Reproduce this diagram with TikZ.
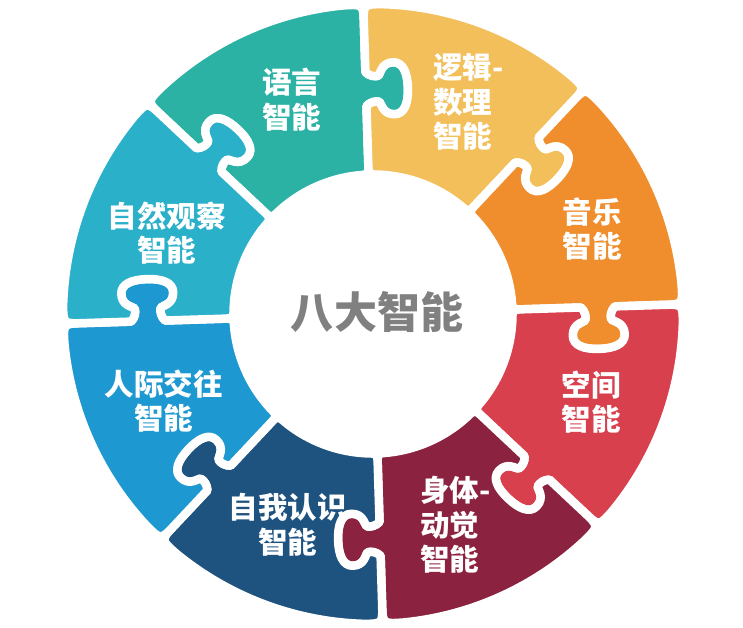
\documentclass[tikz,border=0pt]{standalone}
\usepackage{fontspec}
\newfontfamily\cjk{Noto Sans CJK SC}
\definecolor{cLang}{RGB}{44,178,164}
\definecolor{cLogic}{RGB}{243,191,90}
\definecolor{cMusic}{RGB}{240,142,46}
\definecolor{cSpace}{RGB}{216,64,78}
\definecolor{cBody}{RGB}{139,34,64}
\definecolor{cSelf}{RGB}{30,83,128}
\definecolor{cInter}{RGB}{30,152,208}
\definecolor{cNature}{RGB}{43,176,201}
\definecolor{cCenter}{RGB}{128,128,128}
\newcommand\pRin{139.5}
\newcommand\pRout{310}
\newcommand\pRmid{225}
% knob along the boundary at angle #1, from (mid-17) to (mid+17), bulging to the clockwise side
\newcommand\knobF[1]{%
 .. controls ([rotate=#1]\pRmid-13,-4) and ([rotate=#1]\pRmid-12,-9) .. ([rotate=#1]\pRmid-13,-13)
 .. controls ([rotate=#1]\pRmid-15,-15) and ([rotate=#1]\pRmid-26,-16) .. ([rotate=#1]\pRmid-26,-28)
 .. controls ([rotate=#1]\pRmid-26,-38) and ([rotate=#1]\pRmid-15,-42) .. ([rotate=#1]\pRmid,-42)
 .. controls ([rotate=#1]\pRmid+15,-42) and ([rotate=#1]\pRmid+26,-38) .. ([rotate=#1]\pRmid+26,-28)
 .. controls ([rotate=#1]\pRmid+26,-16) and ([rotate=#1]\pRmid+15,-15) .. ([rotate=#1]\pRmid+13,-13)
 .. controls ([rotate=#1]\pRmid+12,-9) and ([rotate=#1]\pRmid+13,-4) .. ([rotate=#1]\pRmid+17,0)}
% same knob, traversed backwards
\newcommand\knobB[1]{%
 .. controls ([rotate=#1]\pRmid+13,-4) and ([rotate=#1]\pRmid+12,-9) .. ([rotate=#1]\pRmid+13,-13)
 .. controls ([rotate=#1]\pRmid+15,-15) and ([rotate=#1]\pRmid+26,-16) .. ([rotate=#1]\pRmid+26,-28)
 .. controls ([rotate=#1]\pRmid+26,-38) and ([rotate=#1]\pRmid+15,-42) .. ([rotate=#1]\pRmid,-42)
 .. controls ([rotate=#1]\pRmid-15,-42) and ([rotate=#1]\pRmid-26,-38) .. ([rotate=#1]\pRmid-26,-28)
 .. controls ([rotate=#1]\pRmid-26,-16) and ([rotate=#1]\pRmid-15,-15) .. ([rotate=#1]\pRmid-13,-13)
 .. controls ([rotate=#1]\pRmid-12,-9) and ([rotate=#1]\pRmid-13,-4) .. ([rotate=#1]\pRmid-17,0)}
\newcommand\piecepath{%
 (\pRin+12,0) -- (\pRmid-17,0) \knobF{0} -- (\pRout-20,0)
 .. controls (\pRout,0) .. (3.7:\pRout)
 arc[start angle=3.7, end angle=41.3, radius=\pRout]
 .. controls (45:\pRout) .. (45:\pRout-20)
 -- ([rotate=45]\pRmid+17,0) \knobB{45} -- (45:\pRin+12)
 .. controls (45:\pRin) .. (40.07:\pRin)
 arc[start angle=40.07, end angle=4.93, radius=\pRin]
 .. controls (0:\pRin) .. (\pRin+12,0) -- cycle}
\tikzset{
 piece/.style={draw=white, line width=8.5pt, line join=round},
 lab/.style={text=white, inner sep=0pt, font=\cjk\bfseries\fontsize{29.5}{34.5}\selectfont},
 centerlab/.style={text=cCenter, inner sep=0pt, font=\cjk\bfseries\fontsize{43}{48}\selectfont}
}
\begin{document}
\begin{tikzpicture}[x=1pt,y=1pt]
\fill[white] (-373,-313) rectangle (370,314);
\useasboundingbox (-373,-313) rectangle (370,314);
\foreach \ang/\col in {91.8/cLang, 46.8/cLogic, 1.8/cMusic, -43.2/cSpace, -88.2/cBody, -133.2/cSelf, -178.2/cInter, 136.8/cNature}{
  \filldraw[piece, fill=\col, rotate=\ang] \piecepath;
}
\node[lab, align=center] (lang) at (-81,214.5) {语言\\智能};
\node[lab, align=left, anchor=west] (logic) at (60,212) {逻辑-\\数理\\智能};
\node[lab, align=center] (music) at (219,85) {音乐\\智能};
\node[lab, align=center] (space) at (218,-88) {空间\\智能};
\node[lab, align=left, anchor=west] (body) at (47,-211) {身体-\\动觉\\智能};
\node[lab, align=center] (self) at (-85,-211) {自我认识\\智能};
\node[lab, align=center] (inter) at (-209,-87) {人际交往\\智能};
\node[lab, align=center] (nature) at (-206,81) {自然观察\\智能};
\node[centerlab] (center) at (4,2) {八大智能};
\end{tikzpicture}
\end{document}
